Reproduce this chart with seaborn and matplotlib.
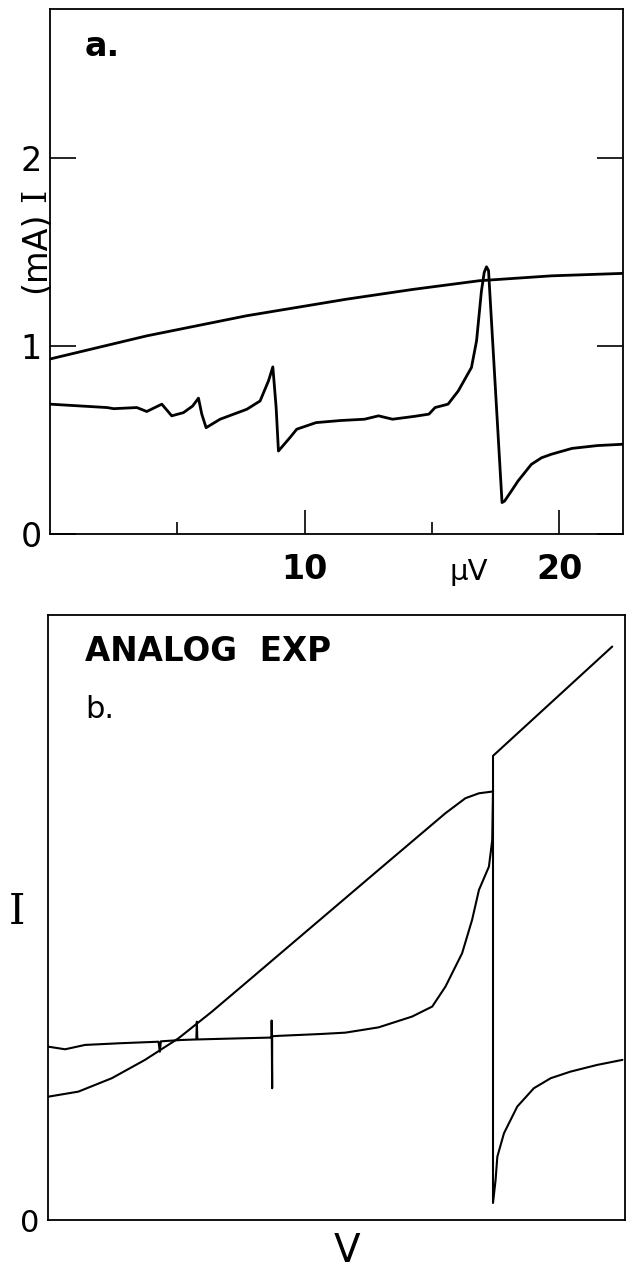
import numpy as np
import pandas as pd
import matplotlib
matplotlib.use("Agg")
import matplotlib.pyplot as plt
import seaborn as sns

# panel a: I(V), bias in microvolts, current in mA
a_smooth_v = [0.0, 3.8, 7.73, 11.65, 14.26, 16.86, 19.7, 22.5]
a_smooth_i = [0.93, 1.053, 1.16, 1.248, 1.30, 1.346, 1.372, 1.385]

a_steps_v = [0.0, 2.24, 2.5, 3.41, 3.8, 4.39, 4.78, 5.24, 5.6, 5.83, 5.96, 6.13, 6.68,
             7.73, 8.25, 8.58, 8.75, 8.88, 8.97, 9.42, 9.69, 10.45, 11.4, 12.35, 12.9,
             13.45, 14.3, 14.88, 15.12, 15.63, 16.03, 16.55, 16.75, 16.94, 17.05,
             17.14, 17.22, 17.75, 17.85, 18.1, 18.38, 18.9, 19.3, 19.69, 20.5, 21.5, 22.5]
a_steps_i = [0.69, 0.672, 0.666, 0.672, 0.651, 0.69, 0.628, 0.645, 0.68, 0.722, 0.637,
             0.565, 0.61, 0.663, 0.707, 0.814, 0.888, 0.672, 0.441, 0.512, 0.557, 0.592,
             0.603, 0.61, 0.628, 0.61, 0.625, 0.637, 0.672, 0.69, 0.76, 0.885, 1.027,
             1.29, 1.39, 1.42, 1.40, 0.167, 0.175, 0.225, 0.282, 0.37, 0.405, 0.424,
             0.455, 0.47, 0.477]

# panel b: analog experiment, arbitrary units
b_smooth_v = [0.0, 1.19, 2.5, 3.8, 5.11, 6.42, 7.73, 10.34, 12.95, 14.26, 15.57, 16.35,
              16.88, 17.4, 17.43, 17.43, 22.1]
b_smooth_i = [0.652, 0.679, 0.75, 0.847, 0.961, 1.102, 1.252, 1.552, 1.852, 2.002, 2.152,
              2.231, 2.257, 2.266, 2.266, 2.455, 3.033]

b_steps_v = [0.0, 0.67, 1.45, 2.83, 4.33, 4.38, 4.42, 5.2, 5.81, 5.83, 5.85, 7.56, 8.76,
             8.76, 8.78, 8.78, 9.03, 10.71, 11.65, 12.95, 14.26, 15.05, 15.57, 16.22,
             16.61, 16.88, 17.27, 17.4, 17.43, 17.43, 17.53, 17.6, 17.86, 18.38, 19.03,
             19.69, 20.47, 21.5, 22.5]
b_steps_i = [0.917, 0.903, 0.926, 0.935, 0.943, 0.89, 0.945, 0.952, 0.955, 1.049, 0.955,
             0.961, 0.965, 1.055, 0.697, 0.972, 0.974, 0.984, 0.991, 1.019, 1.076, 1.129,
             1.235, 1.411, 1.587, 1.746, 1.869, 2.01, 2.27, 0.09, 0.21, 0.335, 0.459, 0.6,
             0.697, 0.75, 0.785, 0.82, 0.847]

sns.set_style("ticks")
plt.rcParams['font.family'] = ['DejaVu Sans']
plt.rcParams['text.color'] = 'black'
plt.rcParams['xtick.color'] = 'black'
plt.rcParams['ytick.color'] = 'black'

W, H = 630, 1273
fig = plt.figure(figsize=(W / 100, H / 100), dpi=100)
ax_a = fig.add_axes([50 / W, 1 - 534 / H, 573 / W, 525 / H])
ax_b = fig.add_axes([48 / W, 1 - 1220 / H, 577 / W, 605 / H])

line_kw = dict(sort=False, estimator=None, color="black")

sns.lineplot(x=a_smooth_v, y=a_smooth_i, lw=2.0, ax=ax_a, **line_kw)
sns.lineplot(x=a_steps_v, y=a_steps_i, lw=2.0, ax=ax_a, **line_kw)

sns.lineplot(x=b_smooth_v, y=b_smooth_i, lw=1.5, ax=ax_b, **line_kw)
sns.lineplot(x=b_steps_v, y=b_steps_i, lw=1.5, ax=ax_b, **line_kw)

for ax in (ax_a, ax_b):
    for s in ax.spines.values():
        s.set_linewidth(1.3)
        s.set_color("black")
    ax.set_xlabel("")
    ax.set_ylabel("")

# panel a axes
ax_a.set_xlim(0, 22.5)
ax_a.set_ylim(0, 2.79)
ax_a.set_yticks([0, 1, 2])
ax_a.set_yticklabels(["0", "1", "2"], fontsize=24)
ax_a.set_xticks([10, 20])
ax_a.set_xticklabels(["10", "20"], fontsize=24, fontweight="bold")
ax_a.set_xticks([5, 15], minor=True)
ax_a.tick_params(axis="y", which="major", direction="in", length=19, width=1.2,
                 pad=6, left=True, right=True, labelright=False)
ax_a.tick_params(axis="x", which="major", direction="in", length=17, width=1.2, pad=14)
ax_a.tick_params(axis="x", which="minor", direction="in", length=9, width=1.2)

# panel b axes
ax_b.set_xlim(0, 22.6)
ax_b.set_ylim(0, 3.2)
ax_b.set_xticks([])
ax_b.set_yticks([0])
ax_b.set_yticklabels(["0"], fontsize=22)
ax_b.tick_params(axis="y", length=0, pad=6)

# labels and annotations
fig.text(36 / W, 1 - 252 / H, "(mA)", rotation=90, fontsize=24, ha="center", va="center")
fig.text(36 / W, 1 - 195 / H, "I", rotation=90, fontsize=24, ha="center", va="center",
         family="DejaVu Serif")
fig.text(469 / W, 1 - 572 / H, "μV", fontsize=21, ha="center", va="center")
fig.text(85 / W, 1 - 46 / H, "a.", fontsize=24, fontweight="bold", ha="left", va="center")
fig.text(85 / W, 1 - 652 / H, "ANALOG  EXP", fontsize=23.5, fontweight="bold",
         ha="left", va="center")
fig.text(85 / W, 1 - 709 / H, "b.", fontsize=22, ha="left", va="center")
fig.text(17 / W, 1 - 912 / H, "I", fontsize=30, ha="center", va="center",
         family="DejaVu Serif")
fig.text(347 / W, 1 - 1251 / H, "V", fontsize=28, ha="center", va="center")

fig.savefig("out.png", dpi=100)
